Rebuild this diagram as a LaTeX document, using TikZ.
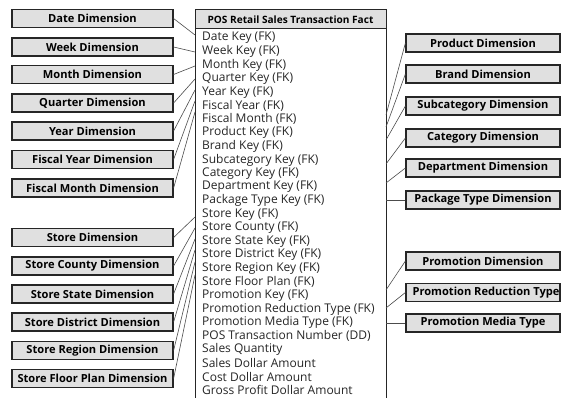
\documentclass[tikz,border=0pt]{standalone}
\usepackage{fontspec}
\setmainfont{Open Sans}
\begin{document}
\begin{tikzpicture}[x=1pt,y=-1pt,
  dimbox/.style={draw=black!85, line width=1.2pt, fill=black!12,
    minimum width=161pt, minimum height=18pt, inner sep=0pt,
    font=\bfseries\fontsize{11.1}{12}\selectfont},
  rdimbox/.style={dimbox, minimum width=154pt},
  facthead/.style={draw=black!85, line width=1pt, fill=black!12,
    minimum width=191pt, minimum height=19pt, inner sep=0pt,
    font=\bfseries\fontsize{10.1}{11}\selectfont},
  factbody/.style={draw=black!85, line width=1pt, fill=white,
    minimum width=191pt, minimum height=391pt, inner sep=0pt},
  rowtext/.style={anchor=west, inner sep=0pt,
    font=\fontsize{12}{13}\selectfont, text=black!85},
  link/.style={draw=black!70, line width=0.6pt}]
\clip (0,0) rectangle (561,398);
\fill[white] (0,0) rectangle (561,398);

% fact table
\node[factbody] (body) at (290.5,224.5) {};
\node[facthead] (head) at (290.5,19.5) {POS Retail Sales Transaction Fact};
\foreach \t [count=\i] in {Date Key (FK), Week Key (FK), Month Key (FK),
  Quarter Key (FK), Year Key (FK), Fiscal Year (FK), Fiscal Month (FK),
  Product Key (FK), Brand Key (FK), Subcategory Key (FK), Category Key (FK),
  Department Key (FK), Package Type Key (FK), Store Key (FK),
  Store County (FK), Store State Key (FK), Store District Key (FK),
  Store Region Key (FK), Store Floor Plan (FK), Promotion Key (FK),
  Promotion Reduction Type (FK), Promotion Media Type (FK),
  POS Transaction Number (DD), Sales Quantity, Sales Dollar Amount,
  Cost Dollar Amount, Gross Profit Dollar Amount}
  \node[rowtext] (row\i) at (202,{38+13.55*(\i-1)}) {\t};

% left-hand dimensions
\node[dimbox] (date)    at (92.5,18.5)  {\makebox[0pt]{Date Dimension}};
\node[dimbox] (week)    at (92.5,47)    {\makebox[0pt]{Week Dimension}};
\node[dimbox] (month)   at (92.5,74.5)  {\makebox[0pt]{Month Dimension}};
\node[dimbox] (quarter) at (92.5,103)   {\makebox[0pt]{Quarter Dimension}};
\node[dimbox] (year)    at (92.5,131)   {\makebox[0pt]{Year Dimension}};
\node[dimbox] (fyear)   at (92.5,159.5) {\makebox[0pt]{Fiscal Year Dimension}};
\node[dimbox] (fmonth)  at (92.5,188)   {\makebox[0pt]{Fiscal Month Dimension}};
\node[dimbox] (store)    at (92.5,237.5) {\makebox[0pt]{Store Dimension}};
\node[dimbox] (county)   at (92.5,266)   {\makebox[0pt]{Store County Dimension}};
\node[dimbox] (state)    at (92.5,294)   {\makebox[0pt]{Store State Dimension}};
\node[dimbox] (district) at (92.5,322)   {\makebox[0pt]{Store District Dimension}};
\node[dimbox] (region)   at (92.5,350.5) {\makebox[0pt]{Store Region Dimension}};
\node[dimbox] (floor)    at (92.5,378.5) {\makebox[0pt]{Store Floor Plan Dimension}};

% right-hand dimensions
\node[rdimbox] (product) at (483,43)    {\makebox[0pt]{Product Dimension}};
\node[rdimbox] (brand)   at (483,74)    {\makebox[0pt]{Brand Dimension}};
\node[rdimbox] (subcat)  at (483,106)   {\makebox[0pt]{Subcategory Dimension}};
\node[rdimbox] (cat)     at (483,138)   {\makebox[0pt]{Category Dimension}};
\node[rdimbox] (dept)    at (483,168)   {\makebox[0pt]{Department Dimension}};
\node[rdimbox] (pack)    at (483,200)   {\makebox[0pt]{Package Type Dimension}};
\node[rdimbox] (promo)   at (483,261)   {\makebox[0pt]{Promotion Dimension}};
\node[rdimbox] (reduct)  at (483,292.5) {\makebox[0pt]{\hspace{6pt}Promotion Reduction Type}};
\node[rdimbox] (media)   at (483,323)   {\makebox[0pt]{Promotion Media Type}};

% attachment points on the fact table edges
\coordinate (kDate)     at (195,35);
\coordinate (kWeek)     at (195,52);
\coordinate (kMonth)    at (195,66);
\coordinate (kQuarter)  at (195,79);
\coordinate (kYear)     at (195,90);
\coordinate (kFYear)    at (195,101);
\coordinate (kFMonth)   at (195,112);
\coordinate (kStore)    at (195,217);
\coordinate (kCounty)   at (195,228);
\coordinate (kState)    at (195,239);
\coordinate (kDistrict) at (195,250);
\coordinate (kRegion)   at (195,262);
\coordinate (kFloor)    at (195,275);
\coordinate (kProduct)  at (386,115);
\coordinate (kBrand)    at (386,127);
\coordinate (kSubcat)   at (386,140);
\coordinate (kCat)      at (386,164);
\coordinate (kDept)     at (386,183);
\coordinate (kPack)     at (386,200);
\coordinate (kPromo)    at (386,290);
\coordinate (kReduct)   at (386,308);
\coordinate (kMedia)    at (386,323);

% connectors
\foreach \a/\b in {date/kDate, week/kWeek, month/kMonth, quarter/kQuarter,
  year/kYear, fyear/kFYear, fmonth/kFMonth, store/kStore, county/kCounty,
  state/kState, district/kDistrict, region/kRegion, floor/kFloor}
  \draw[link] (\a.east) -- (\b);
\foreach \a/\b in {product/kProduct, brand/kBrand, subcat/kSubcat, cat/kCat,
  dept/kDept, pack/kPack, promo/kPromo, reduct/kReduct, media/kMedia}
  \draw[link] (\a.west) -- (\b);
\end{tikzpicture}
\end{document}
